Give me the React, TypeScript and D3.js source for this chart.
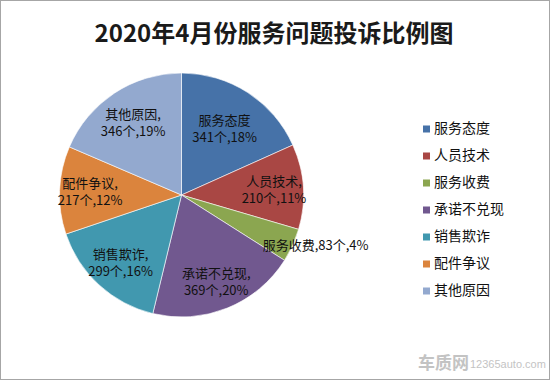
import React from 'react';
import * as d3 from 'd3';

const categories = ['服务态度', '人员技术', '服务收费', '承诺不兑现', '销售欺诈', '配件争议', '其他原因'];
const counts = [341, 210, 83, 369, 299, 217, 346];
const percents = ['18%', '11%', '4%', '20%', '16%', '12%', '19%'];
const colors = ['#4672A8', '#A94744', '#8BA650', '#71588F', '#4198AF', '#DB843D', '#93A9CF'];
const title = '2020年4月份服务问题投诉比例图';

const W = 550;
const H = 380;
const cx = 181.5;
const cy = 195;
const R = 122;
const labelFactors = [0.65, 0.76, 1.0, 0.76, 0.74, 0.75, 0.72];
const FONT = '"Noto Sans CJK SC", "Microsoft YaHei", sans-serif';

export default function App() {
  const pie = d3.pie<number>().value((d) => d).sort(null);
  const arcs = pie(counts);
  const arcGen = d3.arc<d3.PieArcDatum<number>>().innerRadius(0).outerRadius(R);

  const legendY = d3.scalePoint<string>().domain(categories).range([129, 291]);

  return (
    <svg
      width={W}
      height={H}
      style={{ position: 'absolute', left: 0, top: 0, background: '#fff' }}
      fontFamily={FONT}
    >
      <rect x={0.5} y={0.5} width={W - 1} height={H - 1} fill="#fff" stroke="#A6A6A6" />
      <text x={W / 2 - 1} y={42} textAnchor="middle" fontSize={24} fontWeight="bold" fill="#1a1a1a">
        {title}
      </text>
      <g transform={`translate(${cx},${cy})`}>
        {arcs.map((a, i) => (
          <path key={i} d={arcGen(a) || ''} fill={colors[i]} stroke="#fff" strokeWidth={0.6} />
        ))}
        {arcs.map((a, i) => {
          const mid = (a.startAngle + a.endAngle) / 2;
          const r = R * labelFactors[i];
          const x = Math.sin(mid) * r;
          const y = -Math.cos(mid) * r;
          if (i === 2) {
            return (
              <text key={i} x={x - 30} y={y + 1} fontSize={13} fill="#111" dominantBaseline="middle">
                {`${categories[i]},${counts[i]}个,${percents[i]}`}
              </text>
            );
          }
          const first = i === 0 ? categories[i] : `${categories[i]},`;
          return (
            <text key={i} textAnchor="middle" fontSize={13} fill="#111">
              <tspan x={x} y={y - 3}>{first}</tspan>
              <tspan x={x} y={y + 14}>{`${counts[i]}个,${percents[i]}`}</tspan>
            </text>
          );
        })}
      </g>
      <g>
        {categories.map((c, i) => {
          const y = legendY(c) as number;
          return (
            <g key={c}>
              <rect x={423} y={y - 3.5} width={7} height={7} fill={colors[i]} />
              <text x={434} y={y} fontSize={14} fill="#111" dominantBaseline="middle">
                {c}
              </text>
            </g>
          );
        })}
      </g>
      <g opacity={0.5}>
        <text x={418} y={369} fontSize={17} fontWeight="bold" fill="#888">
          车质网
        </text>
        <text x={470} y={368} fontSize={11} fill="#888" fontFamily="Arial, Liberation Sans, sans-serif">
          12365auto.com
        </text>
      </g>
    </svg>
  );
}
